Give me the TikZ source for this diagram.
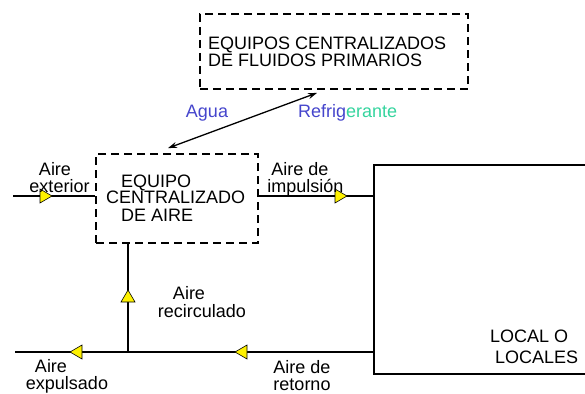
\documentclass[tikz,border=0pt]{standalone}
\usepackage{fontspec}
\setmainfont{Liberation Sans}
\usetikzlibrary{arrows.meta,calc}
\definecolor{aguac}{HTML}{4545CC}
\definecolor{refc}{HTML}{35D49E}
\begin{document}
\begin{tikzpicture}[x=1pt,y=-1pt,
  lbl/.style={font=\fontsize{18}{18}\selectfont, inner sep=0pt, anchor=base},
  dbox/.style={draw, line width=1.8pt, dash pattern=on 8pt off 5pt, inner sep=0pt},
  flow/.style={line width=1.3pt},
  tri/.pic={\filldraw[fill=yellow,draw=black,line width=0.6pt] (-6,-7) -- (6,0) -- (-6,7) -- cycle;}]
\useasboundingbox (0,0) rectangle (585,393);

% boxes
\node[dbox, minimum width=268pt, minimum height=75pt] (fp) at (334,51.5) {};
\node[dbox, minimum width=162pt, minimum height=89pt] (eq) at (177,198.5) {};
\node[draw, line width=2.4pt, minimum width=222pt, minimum height=209pt, anchor=north west, inner sep=0pt] (loc) at (373,164) {};

% box texts
\node[lbl, anchor=base west] (fp1) at (208,50) {EQUIPOS CENTRALIZADOS};
\node[lbl, anchor=base west] (fp2) at (208,67) {DE FLUIDOS PRIMARIOS};
\node[lbl, anchor=base west] (eq1) at (121,187) {EQUIPO};
\node[lbl, anchor=base west] (eq2) at (106,203.5) {CENTRALIZADO};
\node[lbl, anchor=base west] (eq3) at (121,221) {DE AIRE};
\node[lbl, anchor=base west] (loc1) at (490,342) {LOCAL O};
\node[lbl, anchor=base west] (loc2) at (495,363.5) {LOCALES};

% connectors
\coordinate (extin) at (13,196);
\coordinate (expout) at (15,352);
\coordinate (jn) at (128,352);
\draw[flow] (extin) -- (extin -| eq.west);
\draw[flow] (eq.east |- extin) -- (extin -| loc.west);
\draw[flow] (loc.west |- expout) -- (expout);
\draw[flow] (jn) -- (jn |- eq.south);
\draw[flow, {Stealth[length=9pt,width=6pt]}-{Stealth[length=9pt,width=6pt]}]
  ($(eq.north)+(-9,-5)$) -- ($(fp.south)+(-17,3)$);

% flow arrows
\pic at (46,196) {tri};
\pic at (341,196) {tri};
\pic[rotate=180] at (76,352) {tri};
\pic[rotate=180] at (241,352) {tri};
\pic[rotate=90] at (128,296) {tri};

% labels
\node[lbl] (l1) at (55,175) {Aire};
\node[lbl] (l2) at (59.5,192) {exterior};
\node[lbl] (l3) at (300,175) {Aire de};
\node[lbl] (l4) at (305.5,192) {impulsión};
\node[lbl] (l5) at (189,299) {Aire};
\node[lbl] (l6) at (202,317) {recirculado};
\node[lbl] (l7) at (51,372) {Aire};
\node[lbl] (l8) at (67,389) {expulsado};
\node[lbl] (l9) at (302,373) {Aire de};
\node[lbl] (l10) at (302,390) {retorno};
\node[lbl, text=aguac] (agua) at (207,117) {Agua};
\node[lbl, anchor=base west] (refr) at (298,117) {\textcolor{aguac}{Refrig}\textcolor{refc}{erante}};
\end{tikzpicture}
\end{document}
